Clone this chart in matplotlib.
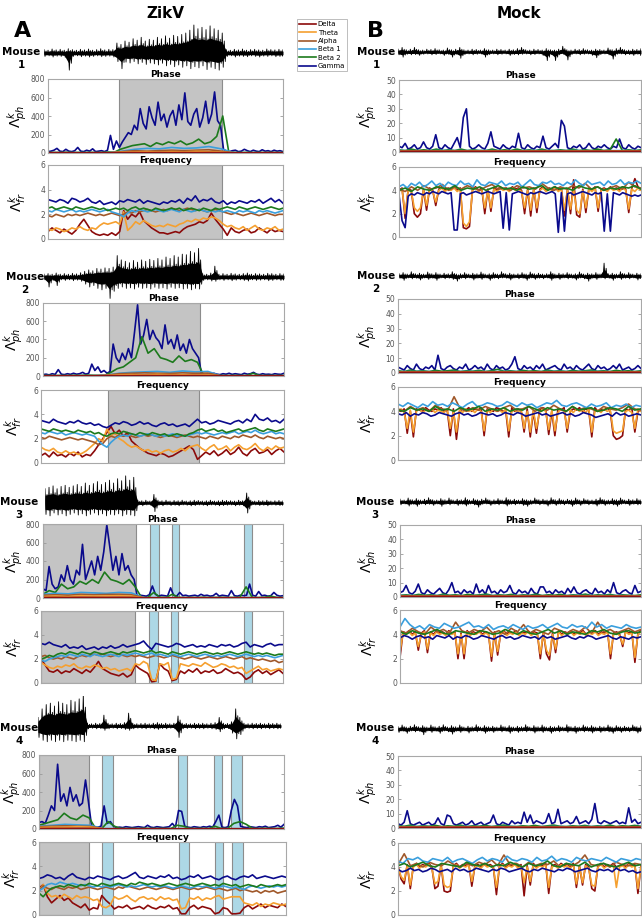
import numpy as np
import matplotlib
matplotlib.use('Agg')
import matplotlib.pyplot as plt
from matplotlib.lines import Line2D

# ---------------------------------------------------------------- data
BANDS = ['Delta', 'Theta', 'Alpha', 'Beta 1', 'Beta 2', 'Gamma']
COLORS = ['#8B0A0A', '#F5A030', '#A0582A', '#3A9FDD', '#1C7A1C', '#0A0A8C']
COLUMN_TITLES = ['ZikV', 'Mock']
PANEL_LETTERS = ['A', 'B']
PH_TICKS_ZIKV = [0, 200, 400, 600, 800]
PH_TICKS_MOCK = [0, 10, 20, 30, 40, 50]
FR_TICKS = [0, 2, 4, 6]

# shaded intervals (fraction of recording): gray = seizure, blue = spikes
zk_gray = [(0.302, 0.740), (0.275, 0.652), (0.0, 0.388), (0.0, 0.203)]
zk_blue = [[], [],
           [(0.446, 0.483), (0.538, 0.567), (0.838, 0.871)],
           [(0.256, 0.301), (0.567, 0.606), (0.714, 0.745), (0.783, 0.827)]]

# ---- ZikV mouse 1
zk1_eeg_up = [0.12,0.10,0.14,0.11,0.13,0.10,0.15,0.12,0.10,0.13,0.11,0.14,0.10,0.12,0.15,0.11,0.13,0.12,
              0.35,0.30,0.42,0.38,0.50,0.45,0.55,0.42,0.48,
              0.45,0.55,0.50,0.60,0.52,0.62,0.58,0.65,0.70,0.80,0.98,0.85,0.90,0.82,0.95,0.85,0.80,0.70,
              0.12,0.10,0.13,0.11,0.14,0.10,0.12,0.13,0.11,0.10,0.14,0.12,0.11,0.13,0.12]
zk1_eeg_lo = [-0.12,-0.10,-0.14,-0.11,-0.12,-0.15,-0.60,-0.12,-0.10,-0.13,-0.11,-0.14,-0.12,-0.10,-0.13,-0.12,-0.11,-0.14,
              -0.30,-0.55,-0.32,-0.35,-0.30,-0.38,-0.33,-0.40,-0.35,
              -0.38,-0.42,-0.36,-0.45,-0.40,-0.48,-0.42,-0.50,-0.45,-0.55,-0.48,-0.52,-0.45,-0.58,-0.50,-0.55,-0.60,-0.50,
              -0.12,-0.10,-0.14,-0.11,-0.12,-0.13,-0.10,-0.12,-0.14,-0.11,-0.12,-0.10,-0.13,-0.12,-0.11]
zk1_ph_gamma = [15,20,30,50,20,15,40,20,15,25,60,20,15,30,20,45,15,20,25,15,30,190,40,130,60,
                120,170,220,200,300,250,480,320,260,500,380,300,550,350,420,280,400,460,300,520,360,650,340,300,
                420,480,280,380,560,320,420,660,350,300,
                40,20,15,25,30,15,20,40,25,15,30,20,15,35,20,25,15,30,20,25,15]
zk1_ph_beta2 = [5,6,5,8,5,6,5,7,5,6,10,8,40,60,80,90,100,70,110,90,120,100,130,90,110,150,100,120,180,400,
                10,6,5,7,5,6,5,6,5,5]
zk1_ph_beta1 = [3,3,3,3,3,3,20,40,50,45,60,50,55,70,45,3,3,3,3,3]
zk1_ph_alpha = [2,2,2,2,2,2,15,25,20,25,30,25,30,35,20,2,2,2,2,2]
zk1_ph_theta = [2,2,2,2,2,2,10,12,15,10,15,12,18,15,10,2,2,2,2,2]
zk1_ph_delta = [3,4,3,2,4,3,4,5,4,5,4,5,4,5,4,3,2,3,4,3]
zk1_fr_gamma = [3.2,3.1,3.0,3.2,3.1,2.9,3.3,3.2,3.0,3.1,3.3,3.0,2.9,3.1,2.8,2.9,3.0,2.8,3.1,3.0,3.2,3.1,3.0,3.2,2.9,
                3.1,3.0,2.9,2.8,3.0,2.9,3.1,3.0,3.2,2.9,3.3,3.1,3.5,3.0,3.2,3.1,3.3,3.0,2.9,3.1,2.8,3.0,2.9,3.1,3.0,
                2.9,3.1,3.0,3.2,2.9,3.1,3.3,3.0,3.2,2.9]
zk1_fr_beta2 = [2.5,2.6,2.4,2.5,2.6,2.5,2.4,2.6,2.5,2.4,2.5,2.6,2.5,2.4,2.5,2.3,2.4,2.5,2.4,2.5,2.3,2.5,2.6,2.4,2.5,
                2.4,2.3,2.5,2.4,2.3,2.4,2.5,2.4,2.5,2.3,2.4,2.5,2.4,2.3,2.5,2.4,2.3,2.5,2.4,2.5,2.6,2.5,2.4,2.6,2.5,
                2.4,2.5,2.6,2.5,2.4,2.5,2.6,2.5,2.4,2.5]
zk1_fr_beta1 = [2.3,2.2,2.4,2.3,2.2,2.3,2.4,2.2,2.3,2.2,2.3,2.4,2.3,2.2,2.3,2.4,2.2,2.1,2.0,1.8,2.1,2.3,2.2,2.4,2.3,
                2.2,2.3,2.4,2.3,2.2,2.3,2.4,2.3,2.2,2.4,2.3,2.2,2.3,2.4,2.3,2.2,2.3,2.2,2.3,2.2,2.3,2.2,2.1,2.3,2.2,
                2.3,2.2,2.1,2.3,2.2,2.3,2.2,2.1,2.2,2.3]
zk1_fr_alpha = [1.9,1.8,2.0,1.9,1.8,2.0,1.9,2.0,1.9,2.0,2.1,2.0,1.9,2.0,1.9,2.0,2.1,2.0,1.9,2.0,2.2,2.1,2.3,2.2,2.3,
                2.4,2.3,2.2,2.3,2.4,2.3,2.5,2.4,2.3,2.4,2.5,2.4,2.3,2.4,2.3,2.2,2.3,2.4,2.3,2.2,2.1,2.0,2.1,2.0,1.9,
                2.0,2.1,2.0,1.9,2.0,2.1,2.0,1.9,2.0,2.0]
zk1_fr_theta = [0.8,0.7,0.9,0.8,0.6,0.7,0.9,0.8,1.0,0.8,0.7,0.9,0.8,1.1,1.3,1.2,1.3,1.4,1.2,2.2,0.7,1.0,1.4,1.2,1.5,
                1.3,1.1,1.0,1.1,1.0,1.2,1.1,1.0,1.2,1.3,1.5,1.4,1.6,1.5,1.7,1.6,1.8,1.7,1.5,1.2,1.0,1.1,0.9,0.8,1.0,
                0.7,0.9,1.1,0.8,0.7,0.9,0.8,1.0,0.7,0.8]
zk1_fr_delta = [0.6,0.9,0.7,0.5,0.8,0.6,0.4,0.7,1.2,1.6,1.1,0.6,0.4,0.3,0.4,0.3,0.5,0.3,0.6,2.3,1.6,2.0,1.8,2.2,1.5,
                1.2,0.9,0.7,0.5,0.5,0.4,0.5,0.6,0.5,0.8,1.0,1.1,1.2,1.4,1.3,1.5,2.1,1.6,1.2,0.8,0.3,0.9,0.6,0.5,0.7,
                0.8,0.5,0.6,0.9,0.7,0.5,0.8,0.6,0.7,0.6]

# ---- ZikV mouse 2
zk2_eeg_up = [0.1,0.12,0.1,0.14,0.1,0.12,0.1,0.13,0.11,0.15,0.2,0.25,0.22,0.3,0.28,0.32,0.3,0.35,0.75,0.6,0.55,0.5,
              0.58,0.52,0.6,0.55,0.62,0.58,0.65,0.6,0.7,0.65,0.75,0.7,0.8,0.78,0.9,0.85,1.0,0.12,0.1,0.14,0.38,0.1,
              0.12,0.1,0.13,0.11,0.1,0.12,0.14,0.1,0.12,0.11,0.1,0.13,0.12,0.1,0.12,0.11]
zk2_eeg_lo = [-0.1,-0.35,-0.12,-0.3,-0.1,-0.12,-0.1,-0.13,-0.11,-0.15,-0.25,-0.35,-0.3,-0.4,-0.45,-0.4,-0.75,-0.5,
              -0.4,-0.35,-0.4,-0.38,-0.42,-0.36,-0.4,-0.38,-0.42,-0.36,-0.4,-0.38,-0.42,-0.36,-0.4,-0.38,-0.42,-0.4,
              -0.45,-0.4,-0.42,-0.12,-0.1,-0.14,-0.15,-0.1,-0.12,-0.1,-0.13,-0.11,-0.1,-0.12,-0.14,-0.1,-0.12,-0.11,
              -0.1,-0.13,-0.12,-0.1,-0.12,-0.11]
zk2_ph_gamma = [15,20,12,25,18,70,20,15,25,18,30,20,25,40,20,30,130,60,100,40,60,30,
                50,350,200,150,250,180,300,200,480,780,350,450,620,400,500,420,380,300,560,350,400,300,450,280,
                350,250,400,300,250,200,
                20,15,25,18,30,20,15,25,20,30,18,25,20,15,30,20,25,40,20,15,25,18,20,15,25,20,18,30]
zk2_ph_beta2 = [5,6,5,6,5,8,6,10,8,6,8,40,80,100,150,200,430,250,300,200,180,150,220,160,180,150,
                8,6,5,6,5,7,5,6,30,6,5,6,5,6]
zk2_ph_beta1 = [3,3,3,3,3,10,30,40,45,50,40,55,45,50,3,3,3,3,3,3]
zk2_ph_alpha = [2,2,2,2,2,8,25,30,35,30,28,35,30,32,2,2,2,2,2,2]
zk2_ph_theta = [1,1,1,1,1,5,12,15,12,18,14,15,12,14,1,1,1,1,1,1]
zk2_ph_delta = [3,3,3,3,3,3,4,4,5,4,5,4,5,4,3,3,3,3,3,3]
zk2_fr_gamma = [3.5,3.4,3.3,3.6,3.4,3.3,3.2,3.4,3.3,3.5,3.3,3.2,3.3,3.1,3.2,3.0,2.9,3.1,3.3,3.2,3.4,3.3,3.1,3.2,
                3.4,3.2,3.3,3.1,3.0,3.2,3.3,3.1,3.2,3.0,3.1,3.2,3.0,3.3,3.6,3.3,3.4,3.2,3.3,3.5,3.4,3.3,3.2,3.4,
                3.5,3.3,3.6,3.4,4.0,3.6,3.5,3.7,3.4,3.5,3.3,3.6]
zk2_fr_beta2 = [2.8,2.7,2.6,2.8,2.7,2.6,2.7,2.6,2.5,2.7,2.6,2.5,2.6,2.4,2.5,2.3,2.2,2.4,2.5,2.4,2.6,2.5,2.4,2.3,
                2.5,2.4,2.3,2.5,2.4,2.3,2.4,2.2,2.3,2.4,2.3,2.2,2.4,2.5,2.7,2.8,2.6,2.7,2.8,2.6,2.7,2.5,2.6,2.7,
                2.8,2.6,2.7,2.8,2.9,2.7,2.6,2.8,2.7,2.6,2.7,2.8]
zk2_fr_beta1 = [2.5,2.4,2.6,2.5,2.4,2.5,2.3,2.4,2.5,2.4,2.3,2.4,2.3,2.2,1.8,1.5,1.3,1.7,2.0,2.2,2.3,2.2,2.4,2.3,
                2.2,2.3,2.4,2.3,2.2,2.3,2.2,2.3,2.4,2.2,2.3,2.2,2.3,2.4,2.5,2.4,2.5,2.4,2.3,2.4,2.5,2.4,2.5,2.6,
                2.4,2.5,2.6,2.5,2.7,2.5,2.4,2.5,2.6,2.4,2.5,2.4]
zk2_fr_alpha = [2.1,2.0,2.2,2.1,2.0,1.9,2.0,2.1,2.0,1.9,2.0,1.9,1.8,1.7,1.5,1.6,2.0,2.2,2.1,2.3,2.2,2.3,2.2,2.1,
                2.2,2.3,2.2,2.3,2.2,2.1,2.2,2.3,2.2,2.1,2.2,2.3,2.2,2.1,2.2,2.1,2.0,2.2,2.1,2.0,2.2,2.1,2.0,2.2,
                2.1,2.3,2.2,2.1,2.3,2.1,2.0,2.2,2.1,2.0,2.1,2.0]
zk2_fr_theta = [1.3,1.1,1.0,1.2,0.9,0.8,1.0,0.8,0.9,0.7,0.8,1.0,1.3,1.6,2.0,1.8,2.8,2.2,2.5,2.0,1.8,1.5,1.3,1.4,
                1.2,1.0,1.1,0.9,1.0,0.8,1.0,1.1,0.9,1.0,1.2,1.0,1.3,1.4,1.5,1.2,1.0,1.3,1.5,1.1,1.2,1.4,1.0,1.3,
                1.5,1.2,1.1,1.3,1.6,1.2,1.0,1.3,1.1,1.4,1.2,1.3]
zk2_fr_delta = [0.6,0.8,0.5,0.9,0.6,0.7,0.5,0.8,0.6,0.9,0.5,0.7,0.6,1.0,1.5,2.0,2.5,3.0,2.4,2.7,2.2,2.5,1.8,1.5,
                1.2,1.0,0.8,0.7,0.6,0.8,0.7,0.5,0.6,0.8,1.0,1.2,1.4,1.1,0.3,0.6,0.9,0.7,1.0,0.6,0.8,1.1,0.7,0.9,
                1.3,0.8,0.6,1.0,1.2,0.8,0.9,1.1,0.7,1.0,1.2,0.9]

# ---- ZikV mouse 3
zk3_eeg_up = [0.5,0.55,0.6,0.5,0.58,0.62,0.55,0.6,0.65,0.58,0.7,0.62,0.68,0.75,0.65,0.72,0.8,0.7,0.85,0.78,0.95,
              0.8,0.9,0.1,0.08,0.1,0.07,0.3,0.1,0.08,0.1,0.07,0.09,0.08,0.1,0.07,0.08,0.1,0.09,0.07,0.08,0.1,0.07,
              0.08,0.1,0.09,0.08,0.07,0.1,0.08,0.35,0.1,0.07,0.09,0.08,0.1,0.07,0.08,0.09,0.08]
zk3_eeg_lo = [-0.4,-0.45,-0.35,-0.42,-0.38,-0.45,-0.4,-0.35,-0.42,-0.38,-0.45,-0.4,-0.35,-0.42,-0.38,-0.45,-0.4,
              -0.42,-0.38,-0.45,-0.4,-0.42,-0.45,-0.08,-0.1,-0.07,-0.08,-0.3,-0.08,-0.1,-0.07,-0.09,-0.08,-0.1,
              -0.07,-0.08,-0.1,-0.09,-0.07,-0.08,-0.1,-0.07,-0.08,-0.1,-0.09,-0.08,-0.07,-0.1,-0.08,-0.1,-0.35,
              -0.08,-0.07,-0.09,-0.08,-0.1,-0.07,-0.08,-0.09,-0.08]
zk3_ph_gamma = [100,80,340,150,100,120,250,180,350,200,150,300,250,580,200,300,400,250,450,300,500,790,550,300,
                450,250,480,300,350,250,200,
                20,30,25,20,35,130,40,20,30,25,20,110,30,20,60,25,30,20,25,30,20,40,25,30,20,25,50,20,30,25,20,
                80,25,20,30,25,30,150,30,20,70,25,30,20,25,60,30,20,25]
zk3_ph_beta2 = [40,80,60,150,100,120,180,150,200,160,280,200,180,150,200,120,
                5,6,60,8,6,40,6,5,6,5,8,5,6,7,5,6,8,120,6,5,8,20,6,5]
zk3_ph_beta1 = [40,50,45,60,55,50,60,55,3,3,3,3,3,3,3,3,3,3,3,3]
zk3_ph_alpha = [30,35,30,40,35,38,40,35,2,2,2,2,2,2,2,2,2,2,2,2]
zk3_ph_theta = [15,20,15,25,20,22,25,20,2,2,2,2,2,2,2,2,2,2,2,2]
zk3_ph_delta = [5,6,5,7,6,6,7,6,3,3,3,3,3,3,3,3,3,3,3,3]
zk3_fr_gamma = [3.3,3.2,3.4,3.2,3.1,3.0,3.2,2.9,3.0,2.9,3.1,2.8,2.9,3.0,2.8,3.0,2.9,3.1,2.9,3.0,3.2,3.0,3.1,3.2,
                3.3,3.5,3.1,2.8,3.3,3.2,3.1,3.0,3.1,3.3,3.2,3.0,3.1,3.2,3.0,3.1,3.0,3.2,3.1,3.0,3.2,3.1,3.2,3.0,
                3.1,3.3,3.4,3.0,3.2,3.1,3.0,3.2,3.3,3.1,3.2,3.2]
zk3_fr_beta2 = [2.0,2.1,2.3,2.2,2.4,2.5,2.4,2.6,2.5,2.4,2.6,2.5,2.4,2.6,2.5,2.4,2.5,2.6,2.5,2.4,2.6,2.5,2.6,2.7,
                2.6,2.5,2.6,2.7,2.5,2.6,2.5,2.4,2.6,2.5,2.4,2.5,2.6,2.5,2.4,2.5,2.6,2.5,2.4,2.5,2.4,2.5,2.6,2.5,
                2.4,2.5,2.6,2.5,2.4,2.5,2.4,2.5,2.4,2.3,2.4,2.4]
zk3_fr_beta1 = [1.9,1.8,2.0,2.1,2.2,2.3,2.2,2.4,2.3,2.2,2.4,2.3,2.2,2.4,2.3,2.2,2.3,2.4,2.3,2.2,2.4,2.3,2.4,2.5,
                2.4,2.3,2.4,2.5,2.3,2.4,2.3,2.2,2.4,2.3,2.2,2.3,2.4,2.3,2.2,2.3,2.4,2.3,2.2,2.3,2.2,2.3,2.4,2.3,
                2.2,2.3,2.4,2.3,2.2,2.3,2.2,2.3,2.2,2.1,2.2,2.3]
zk3_fr_alpha = [2.2,2.3,2.1,2.0,2.1,2.0,2.2,2.1,2.0,2.2,2.3,2.2,2.3,2.4,2.3,2.4,2.3,2.2,2.3,2.4,2.3,2.2,2.3,2.2,
                2.3,2.2,2.1,2.2,2.3,2.2,2.1,2.2,2.3,2.2,2.1,2.0,2.1,2.2,2.1,2.0,2.1,2.2,2.1,2.0,2.1,2.2,2.1,2.0,
                2.1,2.2,2.0,2.1,2.0,1.9,2.0,1.9,1.8,1.9,1.7,1.8]
zk3_fr_theta = [1.7,1.5,1.3,1.2,1.4,1.3,1.5,1.4,1.6,1.3,1.2,1.4,1.3,1.5,1.4,1.2,1.3,1.1,1.2,1.0,1.1,1.2,1.0,
                1.6,1.5,1.8,1.6,0.3,0.2,1.6,1.5,1.7,0.3,0.4,
                1.6,1.5,1.4,1.6,1.5,1.4,1.7,1.5,1.3,1.4,1.6,1.5,1.3,1.4,1.2,1.3,0.8,1.0,
                1.2,1.4,1.1,1.2,1.0,1.1,1.2,1.1]
zk3_fr_delta = [2.0,1.5,1.0,0.9,1.1,0.8,1.0,0.9,1.2,1.0,0.8,1.1,0.9,1.3,1.8,1.2,1.0,0.8,0.7,0.6,0.8,0.5,0.7,
                1.5,1.2,1.0,0.8,0.1,0.15,1.6,1.2,1.0,0.2,0.3,
                1.0,0.8,1.1,0.9,1.2,0.8,1.0,0.9,1.1,0.8,0.9,1.2,1.0,0.8,0.9,0.7,0.3,0.5,
                0.9,1.1,0.8,1.0,0.7,0.9,1.1,0.8]

# ---- ZikV mouse 4
zk4_eeg_up = [0.3,0.6,0.75,0.8,0.7,0.85,0.8,0.75,0.9,0.85,0.95,1.1,0.1,0.08,0.1,0.09,0.38,0.1,0.08,0.1,0.09,0.12,
              0.45,0.1,0.08,0.09,0.1,0.08,0.1,0.12,0.09,0.1,0.08,0.1,0.35,0.1,0.09,0.08,0.1,0.09,0.1,0.08,0.1,0.12,
              0.3,0.1,0.09,0.15,0.6,0.3,0.1,0.08,0.1,0.09,0.1,0.08,0.1,0.09,0.1,0.08]
zk4_eeg_lo = [-0.4,-0.5,-0.55,-0.5,-0.55,-0.5,-0.55,-0.5,-0.52,-0.55,-0.5,-0.55,-0.1,-0.08,-0.1,-0.09,-0.15,-0.1,
              -0.08,-0.1,-0.09,-0.12,-0.15,-0.1,-0.08,-0.09,-0.1,-0.08,-0.1,-0.12,-0.09,-0.1,-0.08,-0.1,-0.4,-0.1,
              -0.09,-0.08,-0.1,-0.09,-0.1,-0.08,-0.1,-0.12,-0.2,-0.1,-0.09,-0.25,-0.45,-0.3,-0.1,-0.08,-0.1,-0.09,
              -0.1,-0.08,-0.1,-0.09,-0.1,-0.08]
zk4_ph_gamma = [70,80,60,150,250,200,700,300,380,250,450,300,370,250,280,530,280,
                20,15,20,30,250,60,80,30,15,20,15,25,20,15,20,25,20,15,40,20,15,25,20,15,20,25,60,20,200,190,
                30,20,15,25,20,15,25,20,30,20,80,150,20,15,25,200,320,250,30,20,15,25,20,15,25,20,30,15,20,
                25,40,20,50]
zk4_ph_beta2 = [40,60,80,100,170,120,100,150,120,
                6,5,80,30,6,5,6,5,8,5,6,5,6,40,30,6,5,6,5,30,6,5,60,80,50,6,5,8,5,6,10]
zk4_ph_beta1 = [30,40,50,45,40,3,3,3,3,3,3,3,3,3,3,3,3,3,3,3]
zk4_ph_alpha = [25,30,35,30,28,2,2,2,2,2,2,2,2,2,2,2,2,2,2,2]
zk4_ph_theta = [15,20,18,25,20,2,2,2,2,2,2,2,2,2,2,2,2,2,2,2]
zk4_ph_delta = [5,6,6,7,6,3,3,3,3,3,3,3,3,3,3,3,3,3,3,3]
zk4_fr_gamma = [3.0,3.1,3.3,3.2,3.0,3.1,2.9,3.2,3.4,3.1,3.0,2.9,3.1,3.0,3.2,3.1,3.0,2.9,3.1,3.2,3.0,3.1,3.3,3.5,
                3.1,3.0,3.2,3.1,3.0,3.2,3.1,3.3,3.0,3.1,2.9,3.0,3.2,3.1,3.3,3.0,3.1,3.2,3.0,2.9,3.1,3.2,3.0,2.9,
                3.1,3.2,3.1,3.3,3.0,3.1,3.2,3.1,3.0,3.1,3.2,3.1]
zk4_fr_beta2 = [1.8,1.5,1.9,2.2,2.3,2.4,2.3,2.5,2.4,2.3,2.5,2.4,2.6,2.5,2.4,2.6,2.5,2.4,2.5,2.6,2.5,2.4,2.6,2.5,
                2.7,2.6,2.5,2.6,2.5,2.4,2.5,2.6,2.5,2.4,2.5,2.6,2.5,2.4,2.5,2.6,2.5,2.4,2.5,2.4,2.6,2.5,2.4,2.5,
                2.3,2.4,2.5,2.4,2.3,2.5,2.4,2.3,2.4,2.5,2.4,2.5]
zk4_fr_beta1 = [2.0,2.2,2.5,2.6,2.5,2.7,2.6,2.5,2.6,2.5,2.4,2.5,2.4,2.3,2.4,2.3,2.4,2.3,2.4,2.5,2.4,2.3,2.4,2.3,
                2.4,2.5,2.4,2.3,2.4,2.3,2.4,2.3,2.2,2.3,2.4,2.3,2.2,2.3,2.4,2.3,2.4,2.3,2.2,2.3,2.4,2.3,2.2,2.3,
                2.2,2.1,2.3,2.4,2.3,2.2,2.3,2.4,2.3,2.4,2.3,2.4]
zk4_fr_alpha = [2.0,2.4,2.2,2.1,2.3,2.2,2.1,2.3,2.2,2.3,2.1,2.2,2.3,2.2,2.1,2.2,2.3,2.2,2.1,2.3,2.2,2.4,2.3,2.2,
                2.1,2.2,2.3,2.2,2.1,2.2,2.3,2.2,2.1,2.2,2.3,2.2,2.1,2.2,2.1,2.2,2.3,2.2,2.1,2.2,2.1,2.0,2.1,2.2,
                2.0,2.1,2.0,1.9,2.0,1.8,2.0,1.9,2.0,1.8,1.9,2.0]
zk4_fr_theta = [2.0,2.5,1.8,1.5,1.6,1.4,1.7,1.5,1.3,1.6,1.4,1.5,1.4,1.2,1.3,0.7,0.6,0.8,
                1.5,1.3,1.4,1.6,1.3,1.1,1.4,1.5,1.3,1.4,1.2,1.5,1.3,1.4,1.2,1.3,0.5,0.6,
                1.4,1.3,1.5,1.2,1.4,1.3,1.5,1.6,1.3,1.4,1.5,1.5,1.5,
                1.0,0.9,0.8,1.0,0.7,0.9,0.8,1.0,0.9,0.8,0.9]
zk4_fr_delta = [2.2,2.5,1.5,1.0,1.3,1.6,1.2,1.4,1.0,0.8,0.6,0.9,0.4,0.6,0.5,1.6,1.2,0.9,
                0.5,0.7,0.6,0.8,0.5,0.6,0.7,0.5,0.8,0.6,0.5,0.7,0.6,0.8,0.5,0.6,0.1,0.1,
                0.6,0.8,0.5,0.7,0.6,0.5,0.1,0.2,0.6,0.5,0.1,0.1,0.15,
                0.6,0.8,0.5,0.7,0.9,0.6,0.8,0.7,0.6,0.9,0.7]

# ---- Mock mouse 1
mk1_eeg_up = [0.1,0.16,0.08,0.1,0.16,0.08,0.07,0.1,0.09,0.12,0.08,0.07,0.14,0.08,0.1,0.16,0.08,0.07,0.1,0.09,0.07,
              0.12,0.08,0.07,0.1,0.09,0.07,0.1,0.08,0.12,0.16,0.08,0.07,0.1,0.09,0.07,0.12,0.08,0.07,0.1,0.2,0.08,
              0.07,0.1,0.09,0.12,0.08,0.07,0.1,0.09,0.07,0.14,0.08,0.12,0.16,0.08,0.07,0.1,0.09,0.12]
mk1_eeg_lo = [-0.1,-0.18,-0.08,-0.1,-0.09,-0.12,-0.08,-0.07,-0.1,-0.09,-0.07,-0.12,-0.08,-0.18,-0.08,-0.22,-0.09,
              -0.07,-0.1,-0.08,-0.07,-0.18,-0.09,-0.07,-0.1,-0.08,-0.07,-0.12,-0.09,-0.1,-0.08,-0.07,-0.1,-0.09,
              -0.07,-0.12,-0.3,-0.09,-0.3,-0.1,-0.08,-0.28,-0.09,-0.07,-0.1,-0.08,-0.07,-0.12,-0.2,-0.09,-0.07,
              -0.1,-0.25,-0.08,-0.07,-0.1,-0.09,-0.12,-0.08,-0.12]
mk1_ph_gamma = [4,3,6,2,3,5,2,3,7,3,2,4,12,3,2,5,3,2,6,10,3,24,30,4,2,3,5,3,2,6,14,4,3,2,5,3,2,4,3,13,
                3,2,5,3,2,4,3,11,3,2,4,6,3,22,18,3,2,4,3,5,2,3,6,3,2,4,3,5,3,2,4,3,9,3,2,5,3,2,4,3]
mk1_ph_beta2 = [1.5,1,2,1,1.5,1,2,1,1.5,1,2,1,1.5,1,1,2,1,1.5,1,2,1,1.5,1,2,1,1,1.5,1,2,1,1.5,1,2,1,1.5,9,
                1,1.5,1,1.5]
mk1_ph_beta1 = [1.0,0.8,1.0,0.9,1.0,0.8,1.0,0.9,1.0,0.8,1.0,0.9]
mk1_ph_alpha = [0.7,0.6,0.7,0.6,0.8,0.6,0.7,0.6,0.7,0.6,0.8,0.7]
mk1_ph_theta = [0.5,0.6,0.5,0.6,0.5,0.6,0.5,0.6,0.5,0.6,0.5,0.6]
mk1_ph_delta = [0.4,0.5,0.4,0.5,0.4,0.5,0.4,0.5,0.4,0.5,0.4,0.5]
mk1_fr_gamma = [3.6,1.4,0.8,3.5,3.7,3.6,3.8,3.7,3.6,3.8, 3.7,3.9,3.8,3.7,3.9,3.8,3.7,3.8,0.6,0.6,
                3.7,3.8,3.6,3.7,3.8,3.9,3.8,3.7,3.8,3.9, 3.8,3.7,3.8,3.9,0.75,3.8,0.6,3.7,3.8,3.9,
                3.8,3.7,3.6,3.8,3.7,3.8,3.9,3.8,3.7,3.8, 3.9,3.7,0.4,3.8,0.5,3.7,3.8,3.6,3.7,3.8,
                3.9,3.8,3.7,3.6,3.8,3.7,3.8,0.5,3.7,0.5, 3.8,3.7,3.6,3.8,3.7,3.6,3.5,3.6,3.5,3.6]
mk1_fr_beta2 = [4.0,4.2,3.9,4.3,4.1,4.0,4.3,4.2,4.1,4.4,4.0,4.2,4.1,4.3,4.0,4.2,4.4,4.1,4.2,4.0,
                4.3,4.1,4.2,4.4,4.0,4.3,4.1,4.2,4.0,4.4,4.2,4.1,4.3,4.0,4.2,4.1,4.3,4.2,4.4,4.1]
mk1_fr_beta1 = [4.3,4.5,4.2,4.6,4.4,4.7,4.3,4.5,4.8,4.4,4.6,4.3,4.7,4.5,4.4,4.8,4.5,4.6,4.3,4.9,4.5,4.4,4.7,4.6,
                4.5,4.8,4.4,4.6,4.5,4.7,4.3,4.6,4.9,4.5,4.4,4.7,4.6,4.8,4.5,4.6,4.4,4.7,4.5,4.9,4.6,4.4,4.8,4.5,
                4.6,4.7,4.4,4.8,4.5,4.6,4.9,4.5,4.7,4.6,4.8,4.6]
mk1_fr_alpha = [4.1,3.9,4.3,4.0,4.4,4.1,4.2,4.5,4.0,4.3,4.1,4.4,4.2,4.0,4.3,4.5,4.1,4.2,4.0,4.4,
                4.2,4.3,4.1,4.6,4.2,4.0,4.3,4.1,4.4,4.2,4.6,4.1,4.3,4.0,4.2,4.4,4.1,4.7,4.3,4.2]
mk1_fr_theta = [3.9,4.1,2.0,4.0,3.9,2.5,2.2,2.5,4.0,2.7, 4.1,3.9,3.0,4.0,4.2,3.9,4.1,4.0,4.2,3.9,
                4.1,1.2,0.9,1.3,4.0,4.2,3.9,4.1,2.5,4.0, 2.5,4.1,3.9,4.2,4.0,4.1,3.9,4.2,4.0,4.1,
                3.9,2.5,4.0,2.3,4.1,2.5,4.0,4.2,3.9,4.1, 4.0,4.2,3.9,4.1,2.3,4.0,2.4,4.1,2.3,2.0,
                4.0,2.5,4.1,3.9,4.2,2.5,4.0,4.1,3.9,4.2, 4.0,4.1,3.9,4.2,4.0,2.4,4.1,3.9,4.2,4.0]
mk1_fr_delta = [4.0,4.2,1.6,4.1,4.0,2.0,1.7,2.0,4.1,2.3, 4.2,4.0,2.7,4.1,4.3,4.0,4.2,4.1,4.3,4.0,
                4.2,0.8,0.7,0.9,4.1,4.3,4.0,4.2,2.0,4.1, 2.2,4.2,4.0,4.3,4.1,4.2,4.0,4.3,4.1,4.2,
                4.0,2.0,4.1,1.8,4.2,2.1,4.1,4.3,4.0,4.2, 4.1,4.3,4.0,4.2,1.8,4.1,2.0,4.9,1.9,1.7,
                4.1,2.1,4.2,4.0,4.3,2.2,4.1,4.2,4.0,4.3, 4.1,4.2,4.0,4.3,4.1,2.1,4.2,5.0,4.3,4.1]

# ---- Mock mouse 2
mk2_eeg_up = [0.08,0.12,0.07,0.15,0.08,0.1,0.07,0.14,0.08,0.12,0.07,0.1,0.08,0.15,0.07,0.08,0.12,0.07,0.1,0.08,0.14,
              0.07,0.08,0.12,0.07,0.15,0.08,0.1,0.07,0.08,0.12,0.07,0.14,0.08,0.1,0.07,0.08,0.15,0.07,0.1,0.08,0.12,
              0.07,0.08,0.14,0.07,0.1,0.08,0.12,0.07,0.45,0.08,0.1,0.07,0.15,0.08,0.12,0.07,0.1,0.08]
mk2_eeg_lo = [-0.08,-0.15,-0.07,-0.1,-0.08,-0.14,-0.07,-0.12,-0.08,-0.15,-0.07,-0.1,-0.08,-0.12,-0.18,-0.08,-0.1,
              -0.07,-0.14,-0.08,-0.12,-0.07,-0.15,-0.08,-0.1,-0.07,-0.08,-0.14,-0.07,-0.1,-0.08,-0.15,-0.07,-0.12,
              -0.08,-0.1,-0.07,-0.15,-0.08,-0.12,-0.07,-0.1,-0.08,-0.14,-0.07,-0.1,-0.18,-0.08,-0.12,-0.07,-0.1,
              -0.08,-0.15,-0.07,-0.12,-0.08,-0.1,-0.07,-0.14,-0.08]
mk2_ph_gamma = [4,3,2,5,3,2,6,3,2,4,3,5,2,12,3,2,4,5,3,2,4,3,6,2,3,5,3,4,2,6,3,2,5,3,4,2,3,6,11,3,
                2,5,3,4,2,5,3,6,2,3,4,5,3,2,6,3,4,2,5,3,2,4,6,3,2,5,3,4,2,3,5,3,6,2,3,4,2,3,5,3]
mk2_ph_beta2 = [1.5,1,2,1.2,1.5,1,1.8,1.2,1.5,2,1,1.5,1.2,1.8,1,1.5,2.5,1.2,1.5,1,
                1.8,1.2,1.5,1,2,1.2,1.5,1,1.8,1.2,1.5,2,1.2,1.5,1,1.8,1.2,1.5,1,1.5]
mk2_ph_beta1 = [0.9,1.0,0.8,1.0,0.9,1.0,0.8,1.0,0.9,1.0,0.8,0.9]
mk2_ph_alpha = [0.6,0.7,0.6,0.8,0.6,0.7,0.6,0.7,0.6,0.8,0.6,0.7]
mk2_ph_theta = [0.5,0.6,0.5,0.6,0.5,0.6,0.5,0.6,0.5,0.6,0.5,0.6]
mk2_ph_delta = [0.4,0.5,0.4,0.5,0.4,0.5,0.4,0.5,0.4,0.5,0.4,0.5]
mk2_fr_gamma = [3.8,3.7,3.9,3.6,3.8,3.7,3.9,3.8,3.6,3.7,3.9,3.8,3.7,3.6,3.8,3.9,3.7,3.8,3.6,3.7,
                3.9,3.8,3.7,3.8,3.6,3.7,3.9,3.8,3.7,3.9,3.8,3.6,3.7,3.8,3.9,3.7,3.8,3.6,3.7,3.8,
                3.9,3.7,3.8,3.6,3.7,3.9,3.8,3.7,3.5,3.6,3.7,3.8,3.6,3.9,3.7,3.8,3.6,3.7,3.8,3.7]
mk2_fr_beta2 = [4.1,4.0,4.3,4.1,4.2,4.0,4.4,4.1,4.2,4.0,4.3,4.1,4.2,4.4,4.0,4.2,4.1,4.3,4.0,4.2,
                4.1,4.4,4.2,4.0,4.3,4.1,4.2,4.0,4.4,4.1,4.2,4.3,4.0,4.1,4.3,4.2,4.0,4.4,4.1,4.2]
mk2_fr_beta1 = [4.6,4.4,4.7,4.5,4.3,4.6,4.4,4.8,4.5,4.6,4.4,4.7,4.5,4.3,4.6,4.8,4.4,4.5,4.7,4.6,4.4,4.5,4.8,4.6,
                4.4,4.7,4.5,4.6,4.3,4.5,4.7,4.6,4.9,4.5,4.4,4.6,4.7,4.5,4.3,4.6,4.4,4.5,4.7,4.3,4.5,4.4,4.6,4.3,
                4.5,4.4]
mk2_fr_alpha = [4.2,4.0,4.4,4.1,4.3,4.0,4.5,4.2,4.1,5.2,4.2,4.0,4.3,4.1,4.4,4.2,4.0,4.3,4.5,4.1,
                4.2,4.4,4.0,4.3,4.1,4.5,4.2,4.0,4.4,4.1,4.3,4.2,4.0,4.4,4.2,4.1,4.3,4.6,4.2,4.1]
mk2_fr_theta = [4.0,4.2,3.9,2.6,4.1,2.3,4.0,4.2,3.9,4.1, 4.0,4.2,3.9,4.1,4.0,3.9,4.2,2.6,4.0,2.3,
                4.1,3.9,4.2,4.0,4.1,3.9,4.2,4.0,2.4,4.1, 3.9,4.2,4.0,4.1,3.9,4.2,2.4,4.0,4.1,3.9,
                4.2,2.6,4.0,2.3,4.1,2.6,3.9,4.2,4.0,2.5, 4.1,2.4,3.9,4.2,4.0,2.6,4.1,3.9,4.2,4.0,
                4.1,3.9,4.2,2.3,4.0,4.1,3.9,4.2,4.0,4.1, 2.4,2.2,2.3,2.4,4.0,4.1,3.9,2.6,4.2,4.0]
mk2_fr_delta = [4.1,4.0,4.2,2.2,4.0,1.9,4.2,4.1,4.0,4.3, 4.1,4.0,4.2,4.1,4.3,4.0,4.1,2.0,4.2,1.7,
                4.0,4.2,4.1,4.3,4.0,4.2,4.1,4.3,2.0,4.2, 4.1,4.0,4.3,4.2,4.0,4.1,1.9,4.3,4.0,4.2,
                4.1,2.3,4.2,1.9,4.0,2.2,4.1,4.3,4.2,2.1, 4.0,2.0,4.2,4.1,4.3,2.3,4.0,4.2,4.1,4.3,
                4.0,4.2,4.1,1.9,4.3,4.0,4.2,4.1,4.3,4.0, 2.0,1.7,1.8,2.0,4.2,4.1,4.3,2.3,4.0,4.2]

# ---- Mock mouse 3
mk3_eeg_up = [0.1,0.07,0.14,0.08,0.12,0.07,0.1,0.15,0.08,0.07,0.12,0.08,0.14,0.07,0.1,0.08,0.15,0.07,0.12,0.08,0.1,
              0.14,0.07,0.08,0.12,0.07,0.15,0.08,0.1,0.07,0.12,0.08,0.07,0.14,0.08,0.1,0.07,0.15,0.08,0.12,0.07,0.1,
              0.08,0.14,0.07,0.12,0.08,0.07,0.1,0.15,0.08,0.07,0.12,0.08,0.14,0.07,0.1,0.08,0.12,0.08]
mk3_eeg_lo = [-0.1,-0.07,-0.14,-0.08,-0.15,-0.07,-0.1,-0.08,-0.12,-0.07,-0.15,-0.08,-0.1,-0.07,-0.12,-0.08,-0.14,
              -0.07,-0.1,-0.18,-0.08,-0.07,-0.12,-0.08,-0.1,-0.07,-0.14,-0.08,-0.1,-0.07,-0.12,-0.15,-0.08,-0.07,
              -0.1,-0.08,-0.14,-0.07,-0.12,-0.08,-0.1,-0.07,-0.15,-0.08,-0.12,-0.07,-0.1,-0.08,-0.14,-0.07,-0.12,
              -0.08,-0.1,-0.15,-0.08,-0.07,-0.12,-0.08,-0.1,-0.08]
mk3_ph_gamma = [3,4,8,3,2,4,9,3,2,5, 3,2,4,6,3,2,5,10,3,4, 2,5,3,4,2,9,3,5,2,8, 3,4,2,5,3,4,8,3,2,5,
                3,4,2,6,3,2,7,7,3,4, 2,5,3,4,2,6,3,7,3,2, 4,5,3,2,6,3,4,2,5,3, 10,3,2,4,5,3,2,8,3,4]
mk3_ph_beta2 = [1.2,1.5,1,1.8,1.2,1.5,1,2,1.2,1.5,1,1.8,1.2,1.5,2,1,1.5,1.2,1.8,1,
                1.5,1.2,2,1,1.5,1.2,1.8,1,1.5,1.2,2,1,1.5,1.2,1.8,1,1.5,1.2,1,1.5]
mk3_ph_beta1 = [1.0,0.9,1.0,0.8,1.0,0.9,1.0,0.8,1.0,0.9,1.0,0.8]
mk3_ph_alpha = [0.7,0.6,0.8,0.6,0.7,0.6,0.7,0.6,0.8,0.6,0.7,0.6]
mk3_ph_theta = [0.6,0.5,0.6,0.5,0.6,0.5,0.6,0.5,0.6,0.5,0.6,0.5]
mk3_ph_delta = [0.5,0.4,0.5,0.4,0.5,0.4,0.5,0.4,0.5,0.4,0.5,0.4]
mk3_fr_gamma = [3.7,3.9,3.8,3.6,3.8,3.9,3.7,3.8,3.6,3.9,3.8,3.7,3.9,3.6,3.8,3.7,3.9,3.8,3.6,3.7,
                3.9,3.8,3.7,3.6,3.8,3.9,3.7,3.8,3.6,3.7,3.9,3.8,3.7,3.8,3.6,3.9,3.7,3.8,3.6,3.7,
                3.8,3.9,3.7,3.6,3.8,3.7,3.9,3.8,3.6,3.7,3.8,3.9,3.7,3.6,3.8,3.7,3.6,3.8,3.7,3.8]
mk3_fr_beta2 = [4.2,4.0,4.3,4.1,4.0,4.2,4.4,4.1,4.0,4.3,4.2,4.1,4.0,4.3,4.2,4.0,4.1,4.4,4.2,4.0,
                4.3,4.1,4.0,4.2,4.4,4.1,4.3,4.0,4.2,4.1,4.0,4.3,4.2,4.4,4.1,4.0,4.2,4.3,4.1,4.2]
mk3_fr_beta1 = [4.6,5.3,4.8,4.5,4.7,4.4,4.8,4.6,4.5,4.9,4.7,4.5,4.6,4.8,5.0,4.6,4.7,4.5,4.8,4.4,4.6,4.7,4.5,4.8,
                4.6,4.4,4.7,4.5,4.6,4.8,4.5,4.7,4.9,4.6,4.5,4.8,4.6,4.7,4.5,5.0,4.6,4.8,4.5,4.7,4.6,4.5,4.8,4.6,
                4.5,4.6]
mk3_fr_alpha = [4.3,4.1,4.5,4.2,4.0,4.6,4.2,4.4,4.1,5.0,4.3,4.1,4.4,4.2,4.6,4.1,4.3,4.0,4.5,4.2,
                4.8,4.1,4.4,4.2,4.0,4.5,4.3,4.1,4.4,4.2,4.6,4.1,5.0,4.2,4.4,4.1,4.3,4.5,4.2,4.4]
mk3_fr_theta = [2.6,4.1,4.0,4.2,3.9,4.1,3.0,4.0,4.2,2.8, 4.1,3.9,4.2,4.0,4.1,3.9,4.2,4.0,4.1,2.4,
                4.0,2.4,4.2,3.9,4.1,4.0,4.2,3.9,4.1,4.0, 2.2,4.1,2.6,4.0,4.2,3.9,4.1,4.0,4.2,3.9,
                4.1,4.0,4.2,3.9,4.1,4.0,2.4,4.1,2.7,2.3, 4.0,2.8,4.2,3.9,4.1,4.0,4.2,3.9,4.1,4.0,
                4.2,3.9,4.1,4.0,4.2,3.9,4.1,4.0,4.2,2.4, 4.0,4.1,3.9,3.2,4.2,4.0,4.1,2.1,4.0,4.2]
mk3_fr_delta = [2.1,4.2,4.1,4.3,4.0,4.2,2.7,4.1,4.3,2.5, 4.2,4.0,4.3,4.1,4.2,4.0,4.3,4.1,4.2,2.0,
                4.1,2.0,4.3,4.0,4.2,4.1,4.3,4.0,4.2,4.1, 1.8,4.2,2.3,4.1,4.3,4.0,4.2,4.1,4.3,4.0,
                4.2,4.1,4.3,4.0,4.2,4.1,2.0,4.2,2.4,1.9, 4.1,2.5,4.3,4.0,4.2,4.1,4.3,4.0,4.2,4.1,
                4.3,4.0,4.2,4.1,4.3,4.0,4.2,4.1,4.3,2.0, 4.1,4.2,4.0,3.0,4.3,4.1,4.2,1.7,4.1,4.3]

# ---- Mock mouse 4
mk4_eeg_up = [0.08,0.14,0.07,0.1,0.15,0.08,0.12,0.07,0.14,0.08,0.1,0.15,0.07,0.12,0.08,0.14,0.07,0.1,0.08,0.15,
              0.07,0.12,0.08,0.1,0.07,0.14,0.08,0.12,0.07,0.1,0.08,0.15,0.07,0.12,0.08,0.14,0.07,0.1,0.08,0.12,
              0.07,0.15,0.08,0.1,0.07,0.14,0.08,0.12,0.07,0.1,0.08,0.14,0.07,0.12,0.08,0.1,0.07,0.14,0.08,0.12]
mk4_eeg_lo = [-0.12,-0.08,-0.15,-0.07,-0.1,-0.08,-0.2,-0.07,-0.12,-0.08,-0.15,-0.07,-0.1,-0.18,-0.08,-0.12,-0.07,
              -0.14,-0.08,-0.1,-0.07,-0.15,-0.08,-0.12,-0.07,-0.1,-0.08,-0.15,-0.07,-0.12,-0.08,-0.1,-0.07,-0.14,
              -0.08,-0.12,-0.07,-0.15,-0.08,-0.1,-0.07,-0.12,-0.08,-0.15,-0.07,-0.1,-0.08,-0.14,-0.07,-0.12,-0.08,
              -0.1,-0.15,-0.07,-0.12,-0.08,-0.1,-0.07,-0.14,-0.08]
mk4_ph_gamma = [3,2,4,12,3,2,3,4,2,3, 4,2,3,7,3,2,9,8,3,2, 3,4,2,3,5,2,3,4,2,3, 4,9,3,2,4,3,2,5,3,4,
                3,11,4,9,3,5,4,3,4,10, 3,4,13,3,4,5,3,4,8,3, 4,5,3,6,17,4,3,5,4,3, 4,5,3,4,3,14,4,6,3,4]
mk4_ph_beta2 = [1.5,1.2,2,1,1.5,1.2,1.8,1,1.5,1.2,2,1,1.5,1.2,1.8,1,1.5,2,1.2,1,
                1.5,1.2,1.8,1,1.5,2,1.2,1,1.5,1.2,1.8,1,1.5,1.2,2,1,1.5,1.2,1.8,1.2]
mk4_ph_beta1 = [0.9,1.0,0.8,1.0,0.9,1.0,0.8,1.0,0.9,1.0,0.8,0.9]
mk4_ph_alpha = [0.6,0.7,0.6,0.7,0.8,0.6,0.7,0.6,0.7,0.6,0.7,0.6]
mk4_ph_theta = [0.5,0.6,0.5,0.6,0.5,0.6,0.5,0.6,0.5,0.6,0.5,0.6]
mk4_ph_delta = [0.4,0.5,0.4,0.5,0.4,0.5,0.4,0.5,0.4,0.5,0.4,0.5]
mk4_fr_gamma = [3.8,3.6,3.7,3.9,3.7,3.8,3.6,3.7,3.9,3.8,3.6,3.7,3.8,3.6,3.9,3.7,3.8,3.6,3.7,3.9,
                3.8,3.7,3.6,3.8,3.7,3.9,3.8,3.6,3.7,3.8,3.9,3.7,3.6,3.8,3.7,3.9,3.8,3.7,3.6,3.8,
                3.7,3.9,3.8,3.6,3.7,3.8,3.9,3.7,3.6,3.8,3.7,3.8,3.6,3.9,3.7,3.8,3.6,3.7,3.5,3.6]
mk4_fr_beta2 = [4.1,4.3,4.0,4.2,4.4,4.1,4.0,4.3,4.2,4.1,4.0,4.4,4.2,4.1,4.3,4.0,4.2,4.1,4.4,4.2,
                4.0,4.3,4.1,4.2,4.5,4.1,4.0,4.3,4.2,4.1,4.4,4.0,4.2,4.3,4.1,4.0,4.2,4.4,4.1,4.2]
mk4_fr_beta1 = [4.5,4.3,4.7,4.6,4.8,4.5,4.4,4.7,4.6,4.5,4.8,4.4,4.6,4.7,4.5,4.3,4.6,4.8,4.5,4.7,4.6,4.4,4.9,4.6,
                4.5,4.7,4.6,4.4,4.8,4.5,4.6,4.9,4.5,4.7,4.6,4.4,4.8,4.6,4.5,4.7,4.6,4.5,4.8,4.6,4.4,4.7,4.6,4.5,
                4.7,4.6]
mk4_fr_alpha = [4.2,5.1,4.1,4.3,4.0,4.4,4.2,4.1,4.5,4.2,4.0,4.3,4.1,4.4,4.2,4.6,4.1,5.0,4.2,4.3,
                4.0,4.4,4.1,4.3,4.2,4.5,4.0,4.3,4.1,4.4,5.0,4.2,4.1,4.3,4.0,4.4,4.2,4.1,4.3,4.2]
mk4_fr_theta = [4.0,3.2,2.9,4.1,2.5,4.0,4.2,3.9,4.1,4.0, 4.2,3.9,2.6,2.8,4.1,2.5,2.3,2.4,4.0,4.2,
                3.9,4.1,4.0,4.2,2.8,4.0,4.1,3.9,4.2,4.0, 4.1,3.9,2.3,4.0,4.2,3.9,4.1,4.0,4.2,3.9,
                4.1,2.7,4.0,2.8,4.2,3.9,4.1,4.0,4.2,2.3, 4.0,4.1,3.9,4.2,4.0,4.1,3.9,4.2,2.6,4.0,
                2.7,4.1,3.9,2.5,2.4,4.0,4.2,3.9,4.1,4.0, 4.2,2.3,4.0,4.1,3.9,4.2,4.0,4.1,2.2,4.0]
mk4_fr_delta = [4.1,3.0,2.6,4.2,2.2,4.1,4.3,4.0,4.2,4.1, 4.3,4.0,2.2,2.4,4.2,2.0,1.9,2.0,4.1,4.3,
                4.0,4.2,4.1,4.3,2.4,4.1,4.2,4.0,4.3,4.1, 4.2,4.0,1.7,4.1,4.3,4.0,4.2,4.1,4.3,4.0,
                4.2,1.6,4.1,2.5,4.3,4.0,4.2,4.1,4.3,1.8, 4.1,4.2,4.0,4.3,4.1,4.2,4.0,4.3,2.3,4.1,
                2.5,4.2,4.0,2.2,2.0,4.1,4.3,4.0,4.2,4.1, 4.3,4.0,4.1,4.2,4.0,4.3,4.1,4.2,1.8,4.1]

# ---------------------------------------------------------------- layout (pixel boxes)
W, H = 642, 919
fig = plt.figure(figsize=(W / 100, H / 100), dpi=100)


def add_ax(l, t, r, b):
    return fig.add_axes([l / W, 1 - b / H, (r - l) / W, (b - t) / H])


# per mouse: eeg (x0, x1, centre y), phase box, freq box, mouse-label (x, y), y-label x
LEFT = [
    dict(eeg=(44, 283, 53), ph=(48, 79, 283, 153), fr=(48, 165, 283, 239), lab=(21, 52), yl=17),
    dict(eeg=(44, 284, 277), ph=(43, 303, 284, 376), fr=(41, 390, 284, 463), lab=(25, 277), yl=13),
    dict(eeg=(45, 283, 503), ph=(43, 524, 283, 598), fr=(41, 611, 283, 683), lab=(19, 502), yl=13),
    dict(eeg=(38, 281, 726), ph=(39, 755, 284, 829), fr=(39, 842, 286, 915), lab=(19, 728), yl=11),
]
RIGHT = [
    dict(eeg=(398, 641, 52), ph=(399, 80, 641, 152), fr=(399, 167, 641, 237), lab=(376, 52), yl=367),
    dict(eeg=(399, 641, 276), ph=(398, 299, 641, 373), fr=(398, 387, 641, 460), lab=(376, 276), yl=367),
    dict(eeg=(400, 641, 502), ph=(400, 525, 641, 597), fr=(400, 610, 641, 683), lab=(375, 502), yl=368),
    dict(eeg=(398, 641, 729), ph=(398, 756, 641, 828), fr=(398, 843, 641, 915), lab=(375, 728), yl=367),
]

g = globals()


def series(prefix, kind):
    keys = ['delta', 'theta', 'alpha', 'beta1', 'beta2', 'gamma']
    return [np.asarray(g[f'{prefix}_{kind}_{k}'], float) for k in keys]


def style(ax, ylim, ticks):
    ax.set_xlim(0, 1)
    ax.set_ylim(*ylim)
    ax.set_xticks([])
    ax.set_yticks(ticks)
    ax.tick_params(axis='y', labelsize=5.5, labelcolor='#555555', color='#999999',
                   length=2, width=0.6, direction='in', right=True, pad=2)
    for s in ax.spines.values():
        s.set_color('#A8A8A8')
        s.set_linewidth(0.8)


def shade(ax, i):
    a, b = zk_gray[i]
    ax.axvspan(a, b, fc='#C4C4C4', ec='#8C8C8C', lw=0.8, zorder=0)
    for a, b in zk_blue[i]:
        ax.axvspan(a, b, fc='#ADD8E6', ec='#8C8C8C', lw=0.8, zorder=0)


for col, (boxes, pre, phmax, phticks) in enumerate(
        [(LEFT, 'zk', 800, PH_TICKS_ZIKV), (RIGHT, 'mk', 50, PH_TICKS_MOCK)]):
    for i, bx in enumerate(boxes):
        p = f'{pre}{i + 1}'
        # raw EEG trace: band between the envelopes plus an oscillating stroke
        x0, x1, cy = bx['eeg']
        ea = add_ax(x0, cy - 30, x1, cy + 30)
        up = np.asarray(g[p + '_eeg_up'], float)
        lo = np.asarray(g[p + '_eeg_lo'], float)
        n = len(up)
        xe = np.linspace(0, 1, n)
        ea.fill_between(xe, lo * 0.55, up * 0.55, color='black', lw=0)
        xz = np.empty(4 * n)
        yz = np.empty(4 * n)
        step = 1.0 / (n - 1)
        for q in range(4):
            xz[q::4] = np.clip(xe + q * step / 4, 0, 1)
        yz[0::4] = up
        yz[1::4] = lo
        yz[2::4] = up * 0.6
        yz[3::4] = lo * 0.6
        ea.plot(xz, yz, color='black', lw=0.6)
        ea.set_xlim(0, 1)
        ea.set_ylim(-1.05, 1.05)
        ea.axis('off')
        lx, ly = bx['lab']
        fig.text(lx / W, 1 - ly / H, 'Mouse', fontsize=7.5, fontweight='bold', ha='center', va='center')
        fig.text(lx / W, 1 - (ly + 13) / H, str(i + 1), fontsize=7.5, fontweight='bold', ha='center', va='center')

        # phase panel
        l, t, r, b = bx['ph']
        ax = add_ax(l, t, r, b)
        if col == 0:
            shade(ax, i)
        ser = series(p, 'ph')
        for k in [5, 4, 3, 2, 1, 0]:
            y = ser[k]
            ax.plot(np.linspace(0, 1, len(y)), y, color=COLORS[k], lw=1.2, zorder=2)
        style(ax, (0, phmax), phticks)
        ax.set_title('Phase', fontsize=6.5, fontweight='bold', pad=1.5)
        fig.text(bx['yl'] / W, 1 - (t + b) / 2 / H, r'$\Lambda^{k}_{ph}$', rotation=90, fontsize=10,
                 ha='center', va='center')

        # frequency panel
        l, t, r, b = bx['fr']
        ax = add_ax(l, t, r, b)
        if col == 0:
            shade(ax, i)
        ser = series(p, 'fr')
        for k in [0, 1, 2, 3, 4, 5]:
            y = ser[k]
            ax.plot(np.linspace(0, 1, len(y)), y, color=COLORS[k], lw=1.2, zorder=2)
        style(ax, (0, 6), FR_TICKS)
        ax.set_title('Frequency', fontsize=6.5, fontweight='bold', pad=1.5)
        fig.text(bx['yl'] / W, 1 - (t + b) / 2 / H, r'$\Lambda^{k}_{fr}$', rotation=90, fontsize=10,
                 ha='center', va='center')

# column headings and panel letters
fig.text(165 / W, 1 - 14 / H, COLUMN_TITLES[0], fontsize=11, fontweight='bold', ha='center', va='center')
fig.text(519 / W, 1 - 14 / H, COLUMN_TITLES[1], fontsize=11, fontweight='bold', ha='center', va='center')
fig.text(23 / W, 1 - 31 / H, PANEL_LETTERS[0], fontsize=16, fontweight='bold', ha='center', va='center')
fig.text(376 / W, 1 - 31 / H, PANEL_LETTERS[1], fontsize=16, fontweight='bold', ha='center', va='center')

# legend
handles = [Line2D([], [], color=c, lw=1.2) for c in COLORS]
leg = fig.legend(handles, BANDS, loc='upper left', bbox_to_anchor=(297 / W, 1 - 19 / H),
                 fontsize=5, frameon=True, fancybox=False, edgecolor='#A0A0A0',
                 handlelength=2.4, handletextpad=0.3, labelspacing=0.35, borderpad=0.3,
                 borderaxespad=0)
leg.get_frame().set_linewidth(0.6)

fig.savefig('out.png', dpi=100)
